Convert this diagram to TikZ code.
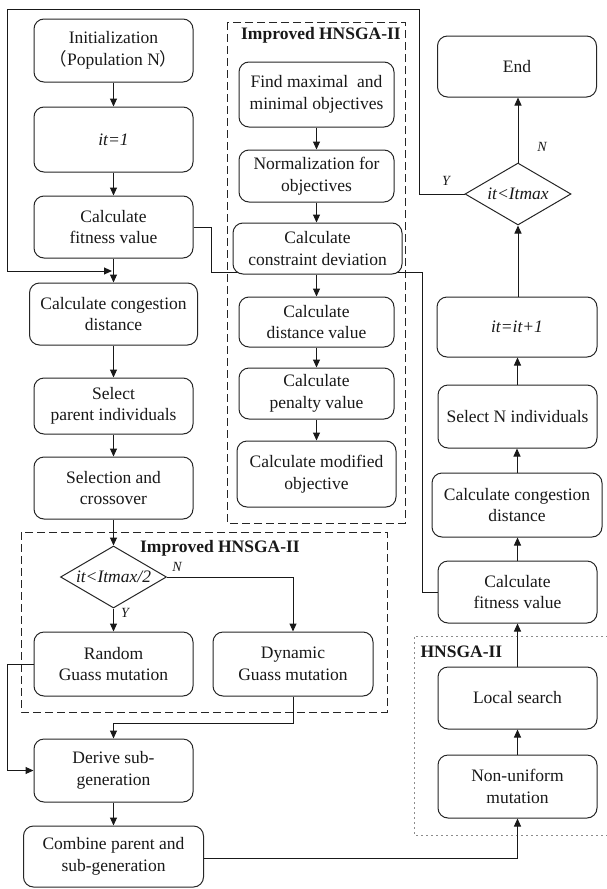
\documentclass[tikz,border=0pt]{standalone}
\usepackage{fontspec}
\setmainfont{Liberation Serif}
\newfontfamily\cjk{Noto Sans CJK SC}
\usetikzlibrary{shapes.geometric,arrows.meta,backgrounds}
\begin{document}
\begin{tikzpicture}[x=1pt,y=-1pt,
  box/.style={draw=black!85, line width=1pt, rounded corners=10pt, fill=white, align=center, inner sep=2pt, text=black!90, font=\fontsize{17.5}{21.5}\selectfont},
  dec/.style={draw=black!85, line width=1pt, diamond, fill=white, inner sep=0pt, aspect=1.7, text=black!90, font=\fontsize{17.5}{21.5}\selectfont\itshape},
  arr/.style={draw=black!90, line width=1pt, -{Triangle[length=8pt,width=7pt]}},
  ln/.style={draw=black!90, line width=1pt},
  lab/.style={text=black!90, font=\fontsize{14}{16}\selectfont\itshape},
  ttl/.style={text=black!90, font=\fontsize{17.5}{20}\selectfont\bfseries},
  dbox/.style={draw=black!85, line width=1pt, dash pattern=on 8pt off 4pt},
  dotbox/.style={draw=black!45, line width=0.9pt, dash pattern=on 2pt off 3pt}
]
\useasboundingbox (0,0) rectangle (607,889);

% ---------- left column ----------
\node[box, minimum width=159pt, minimum height=63pt] (init) at (113.5,50.5) {Initialization\\{\cjk （}Population N{\cjk ）}};
\node[box, minimum width=159pt, minimum height=65pt] (it1) at (113.5,139.5) {\itshape it=1};
\node[box, minimum width=159pt, minimum height=62pt] (fit1) at (113.5,227) {Calculate\\fitness value};
\node[box, minimum width=168pt, minimum height=62pt] (cong1) at (113.5,314) {Calculate congestion\\distance};
\node[box, minimum width=159pt, minimum height=56pt] (selpar) at (113.5,406) {Select\\parent individuals};
\node[box, minimum width=159pt, minimum height=62pt] (selcross) at (113.5,488) {Selection and\\crossover};
\node[dec, minimum width=106pt, minimum height=62pt] (dec1) at (113.5,577) {it<Itmax/2};
\node[box, minimum width=159pt, minimum height=64pt] (random) at (113.5,664) {Random\\Guass mutation};
\node[box, minimum width=160pt, minimum height=64pt] (dynamic) at (293,664) {Dynamic\\Guass mutation};
\node[box, minimum width=159pt, minimum height=63pt] (derive) at (113.5,770.5) {Derive sub-\\generation};
\node[box, minimum width=180pt, minimum height=61pt] (combine) at (113.5,856.5) {Combine parent and\\sub-generation};

% ---------- middle column ----------
\node[box, minimum width=155pt, minimum height=65pt] (findmax) at (316.5,94.5) {Find maximal~ and\\minimal objectives};
\node[box, minimum width=155pt, minimum height=52pt] (norm) at (316.5,176) {Normalization for\\objectives};
\node[box, minimum width=169pt, minimum height=51pt] (constr) at (317.5,248.5) {Calculate\\constraint deviation};
\node[box, minimum width=155pt, minimum height=50pt] (distv) at (316.5,322) {Calculate\\distance value};
\node[box, minimum width=155pt, minimum height=51pt] (penal) at (316.5,393.5) {Calculate\\penalty value};
\node[box, minimum width=159pt, minimum height=66pt] (modif) at (316.5,474) {Calculate modified\\objective};

% ---------- right column ----------
\node[box, minimum width=159pt, minimum height=61pt] (endb) at (517,66.5) {End};
\node[dec, minimum width=106pt, minimum height=62pt] (dec2) at (518,194) {it<Itmax};
\node[box, minimum width=160pt, minimum height=60pt] (itp1) at (517,327) {\itshape it=it+1};
\node[box, minimum width=159pt, minimum height=63pt] (seln) at (517.5,416.5) {Select N individuals};
\node[box, minimum width=170pt, minimum height=64pt] (cong2) at (517,505) {Calculate congestion\\distance};
\node[box, minimum width=159pt, minimum height=62pt] (fit2) at (517.5,592) {Calculate\\fitness value};
\node[box, minimum width=159pt, minimum height=62pt] (local) at (517.5,698) {Local search};
\node[box, minimum width=159pt, minimum height=63pt] (nonuni) at (517.5,786.5) {Non-uniform\\mutation};

% ---------- group frames and titles ----------
\begin{scope}[on background layer]
  \draw[dbox] (227,22) rectangle (405,523);
  \draw[dbox] (21,532) rectangle (387,712);
  \draw[dotbox] (608,636) -- (414,636) -- (414,835) -- (608,835);
  \coordinate (fA) at (211,272);
  \coordinate (fB) at (422,272);
  \draw[ln] (fit1.east) -| (fA) -- (fB) |- (fit2.west);
\end{scope}
\node[ttl] (t1) at (321,35) {Improved HNSGA-II};
\node[ttl] (t2) at (220,548) {Improved HNSGA-II};
\node[ttl, anchor=west] (t3) at (417,652) {HNSGA-II};

% ---------- connectors: left ----------
\draw[arr] (init) -- (it1);
\draw[arr] (it1) -- (fit1);
\draw[arr] (fit1.south) -- (fit1.south |- cong1.north);
\draw[arr] (cong1.south) -- (cong1.south |- selpar.north);
\draw[arr] (selpar) -- (selcross);
\draw[arr] (selcross.south) -- (dec1.north);
\draw[arr] (dec1.south) -- (random.north);
\coordinate (nB) at (293,577);
\draw[arr] (dec1.east) -- (nB) -- (dynamic.north);
\coordinate (rA) at (7,664);
\coordinate (rB) at (7,770.5);
\draw[arr] (random.west) -- (rA) -- (rB) -- (derive.west);
\coordinate (dA) at (293,723);
\coordinate (dB) at (113.5,723);
\draw[arr] (dynamic.south) -- (dA) -- (dB) -- (derive.north);
\draw[arr] (derive) -- (combine);
\coordinate (cA) at (517.5,858);
\draw[arr] (combine.east |- cA) -- (cA) -- (nonuni.south);

% loop back from it<Itmax
\coordinate (lA) at (419,194);
\coordinate (lB) at (419,9);
\coordinate (lC) at (7,9);
\coordinate (lD) at (7,271);
\coordinate (lE) at (112,271);
\draw[arr] (dec2.west) -- (lA) -- (lB) -- (lC) -- (lD) -- (lE);

% ---------- connectors: middle ----------
\draw[arr] (findmax) -- (norm);
\draw[arr] (norm.south) -- (norm.south |- constr.north);
\draw[arr] (constr.south -| distv) -- (distv.north);
\draw[arr] (distv) -- (penal);
\draw[arr] (penal) -- (modif);

% ---------- connectors: right ----------
\draw[arr] (nonuni) -- (local);
\draw[arr] (local) -- (fit2);
\draw[arr] (fit2.north) -- (fit2.north |- cong2.south);
\draw[arr] (cong2.north) -- (cong2.north |- seln.south);
\draw[arr] (seln.north) -- (seln.north |- itp1.south);
\draw[arr] (itp1.north -| dec2) -- (dec2.south);
\draw[arr] (dec2.north) -- (dec2.north |- endb.south);

% ---------- branch labels ----------
\node[lab] (lyes2) at (446,181) {Y};
\node[lab] (lno2) at (542,147) {N};
\node[lab] (lno1) at (177,567) {N};
\node[lab] (lyes1) at (125,613) {Y};
\end{tikzpicture}
\end{document}
